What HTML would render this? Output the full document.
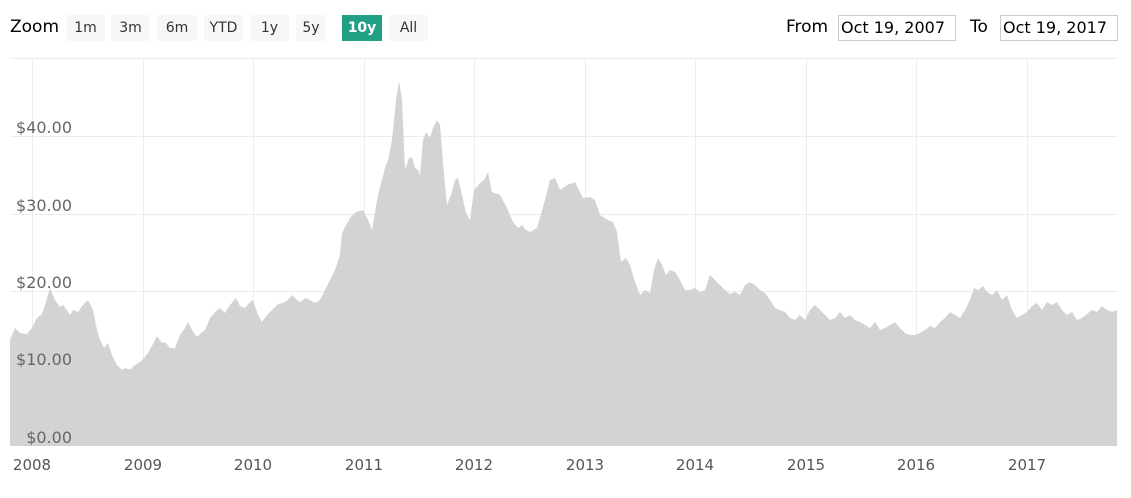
<!DOCTYPE html>
<html><head><meta charset="utf-8"><style>
body{margin:0;width:1131px;height:498px;background:#fff;font-family:"DejaVu Sans","Liberation Sans",sans-serif;overflow:hidden;position:relative}
.t{position:absolute;font-size:15px;color:#333}
.b{position:absolute;top:15px;height:26px;line-height:26px;background:#f7f7f7;text-align:center;font-size:14px;color:#333}
.in{position:absolute;top:15px;height:24px;border:1px solid #ccc;line-height:24px;font-size:16px;color:#000;padding-left:2px}
</style></head><body>
<div class="t" style="left:10px;top:17px;font-size:17px;color:#000">Zoom</div>
<div class="b" style="left:66px;width:39px">1m</div>
<div class="b" style="left:111px;width:39px">3m</div>
<div class="b" style="left:157px;width:40px">6m</div>
<div class="b" style="left:204px;width:39px">YTD</div>
<div class="b" style="left:250px;width:39px">1y</div>
<div class="b" style="left:296px;width:30px">5y</div>
<div class="b" style="left:342px;width:40px;background:#21a085;color:#fff;font-weight:bold">10y</div>
<div class="b" style="left:389px;width:39px">All</div>
<div class="t" style="left:786px;top:17px;font-size:17px;color:#000">From</div>
<div class="in" style="left:838px;width:114px">Oct 19, 2007</div>
<div class="t" style="left:970px;top:17px;font-size:17px;color:#000">To</div>
<div class="in" style="left:1000px;width:114px">Oct 19, 2017</div>
<svg width="1131" height="498" style="position:absolute;left:0;top:0">
<g stroke="#ececec" stroke-width="1">
<line x1="10" x2="1117" y1="58.5" y2="58.5"/>
<line x1="10" x2="1117" y1="136.5" y2="136.5"/>
<line x1="10" x2="1117" y1="214.5" y2="214.5"/>
<line x1="10" x2="1117" y1="291.5" y2="291.5"/>
<line x1="10" x2="1117" y1="369.5" y2="369.5"/>
<line x1="32.5" x2="32.5" y1="58" y2="446"/><line x1="143.5" x2="143.5" y1="58" y2="446"/><line x1="253.5" x2="253.5" y1="58" y2="446"/><line x1="364.5" x2="364.5" y1="58" y2="446"/><line x1="474.5" x2="474.5" y1="58" y2="446"/><line x1="585.5" x2="585.5" y1="58" y2="446"/><line x1="695.5" x2="695.5" y1="58" y2="446"/><line x1="806.5" x2="806.5" y1="58" y2="446"/><line x1="916.5" x2="916.5" y1="58" y2="446"/><line x1="1027.5" x2="1027.5" y1="58" y2="446"/>
</g>
<polygon fill="#d3d3d3" points="10,446 10,340 15,328 20,333 27,334 32,328 37,318 42,314 45,305 50,288 55,300 60,307 63,305 67,310 70,315 73,310 78,312 82,306 88,300 93,310 97,330 100,340 104,348 108,343 112,355 117,365 122,370 125,368 130,370 135,365 140,362 144,358 148,353 153,344 157,336 162,343 165,342 170,348 175,348 180,335 185,328 188,322 192,330 197,337 201,333 205,330 210,318 215,312 220,308 225,313 230,305 236,298 240,306 245,308 250,302 253,300 258,315 262,322 267,315 272,310 278,304 283,303 288,300 292,295 297,300 300,302 305,298 310,300 315,303 320,300 325,290 330,280 335,270 340,255 342,233 350,218 356,212 363,210 368,220 372,230 378,195 385,168 388,160 392,140 396,100 399,81 402,100 405,170 409,158 412,157 415,168 418,170 420,175 423,140 426,132 430,138 433,128 437,120 440,125 444,175 447,205 451,195 455,180 458,178 462,195 466,213 470,220 474,190 480,183 484,180 488,172 492,192 500,195 507,208 513,222 518,228 522,225 526,230 530,232 537,228 545,200 550,180 555,178 560,190 567,185 575,182 583,198 590,197 595,200 600,215 608,220 613,222 617,232 621,262 626,258 630,265 635,282 640,295 645,290 650,293 654,270 658,258 662,265 666,275 670,270 675,272 680,280 685,290 690,290 695,288 700,292 705,290 710,275 715,280 720,285 725,290 730,294 735,292 740,295 745,285 750,282 755,285 760,290 765,293 770,300 775,308 780,310 785,312 790,318 795,320 800,315 805,320 810,310 815,305 820,310 825,315 830,320 835,318 840,312 845,318 850,315 855,320 860,322 865,325 870,328 875,322 880,330 885,328 890,325 895,322 900,328 905,333 910,335 915,335 920,333 925,330 930,326 935,328 940,322 945,318 950,312 955,315 960,318 965,310 970,300 974,288 978,290 983,286 987,292 992,295 997,290 1002,300 1007,295 1012,310 1017,318 1022,315 1027,312 1032,306 1037,303 1042,310 1047,302 1052,305 1057,302 1062,310 1067,315 1072,312 1077,320 1082,318 1087,314 1092,310 1097,312 1102,306 1107,310 1112,312 1117,310 1117,446"/>
<g font-family="DejaVu Sans,sans-serif" font-size="16" fill="#666" text-anchor="end">
<text x="72" y="443">$0.00</text>
<text x="72" y="365">$10.00</text>
<text x="72" y="288">$20.00</text>
<text x="72" y="211">$30.00</text>
<text x="72" y="133">$40.00</text>
</g>
<g font-family="DejaVu Sans,sans-serif" font-size="15" fill="#555" text-anchor="middle">
<text x="32" y="470">2008</text><text x="143" y="470">2009</text><text x="253" y="470">2010</text><text x="364" y="470">2011</text><text x="474" y="470">2012</text><text x="585" y="470">2013</text><text x="695" y="470">2014</text><text x="806" y="470">2015</text><text x="916" y="470">2016</text><text x="1027" y="470">2017</text>
</g>
</svg>
</body></html>
